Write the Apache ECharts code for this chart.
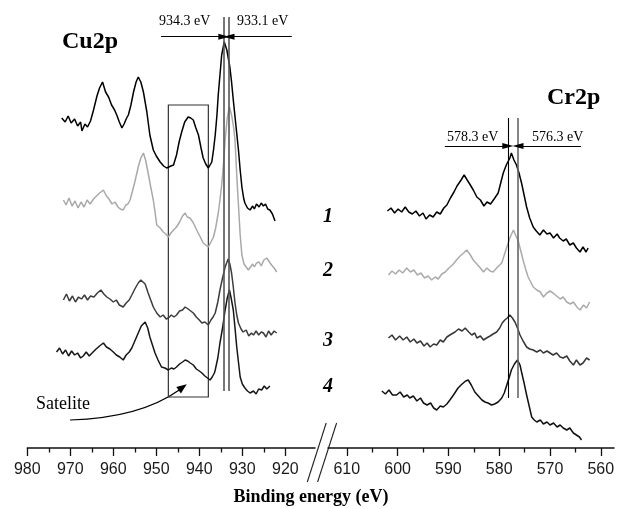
<!DOCTYPE html>
<html>
<head>
<meta charset="utf-8">
<title>Cu2p / Cr2p XPS spectra</title>
<script src="https://cdn.jsdelivr.net/npm/echarts@6/dist/echarts.min.js"></script>
<style>
  html, body { margin: 0; padding: 0; background: #fff; }
  #chart { width: 618px; height: 509px; }
</style>
</head>
<body>
<div id="chart"></div>
<script>
// Binding energy axis ticks (eV)
const cuTickLabels = [980, 970, 960, 950, 940, 930, 920];
const cuMinorTicks = [975, 965, 955, 945, 935, 925];
const crTickLabels = [610, 600, 590, 580, 570, 560];
const crMinorTicks = [605, 595, 585, 575, 565];

// Sample numbers shown beside the Cr2p spectra
const sampleLabels = ['1', '2', '3', '4'];

// Peak positions marked on each region (eV)
const cuPeakMarks = [934.3, 933.1];
const crPeakMarks = [578.3, 576.3];
// Shake-up satellite window (eV)
const satelliteWindow = [947.2, 937.9];

// Cu2p spectra, [binding energy (eV), intensity (a.u., vertically offset)]
const cuSpectrum1 = [
  [972.0,330],[971.2,326],[970.5,332],[969.8,325],[969.0,329],[968.3,322],[967.6,326],[967.3,317],
  [966.6,324],[966.0,321],[965.3,327],[964.6,338],[963.8,352],[963.2,360],[962.5,366],[961.8,356],
  [961.1,351],[960.4,343],[959.7,338],[959.2,333],[958.6,326],[958.0,320],[957.5,324],[956.9,330],
  [956.5,333],[955.9,343],[955.3,356],[954.7,366],[954.2,371],[953.6,366],[953.0,356],[952.2,336],
  [951.5,313],[950.7,298],[950.0,292],[949.1,286],[948.3,282],[947.6,280],[947.2,278],[946.6,282],
  [946.0,283],[945.3,293],[944.7,306],[944.1,316],[943.4,326],[942.6,331],[942.0,330],[941.4,328],
  [940.8,320],[940.2,313],[939.6,300],[939.1,290],[938.5,284],[937.9,280],[937.5,283],[937.1,286],
  [936.7,298],[936.3,313],[935.9,333],[935.6,353],[935.2,373],[934.8,393],[934.2,406],[933.6,398],
  [932.9,381],[932.5,366],[932.1,348],[931.5,323],[930.9,298],[930.5,278],[930.1,261],[929.7,250],
  [929.4,245],[928.8,240],[928.2,238],[927.6,242],[927.2,239],[926.7,244],[926.1,241],[925.6,245],
  [925.1,242],[924.6,244],[924.1,239],[923.6,238],[923.0,234],[922.4,227]
];
const cuSpectrum2 = [
  [971.6,248],[971.0,243],[970.3,250],[969.6,242],[968.9,247],[968.2,240],[967.5,246],[966.8,241],
  [966.1,248],[965.4,244],[964.6,249],[963.9,252],[963.2,255],[962.3,258],[961.6,252],[961.0,249],
  [960.3,244],[959.6,246],[958.9,241],[958.4,239],[957.7,238],[957.1,243],[956.6,244],[956.1,248],
  [955.6,256],[955.0,266],[954.2,281],[953.6,290],[953.0,295],[952.5,288],[951.9,275],[951.3,261],
  [950.7,248],[950.3,236],[949.9,223],[949.1,220],[948.4,216],[947.8,214],[947.2,211],[946.6,215],
  [946.0,218],[945.3,221],[944.6,226],[943.9,232],[943.3,235],[942.8,231],[942.2,230],[941.5,226],
  [940.6,218],[939.9,212],[939.1,205],[938.5,203],[937.9,201],[937.3,206],[936.7,211],[936.2,220],
  [935.6,235],[935.2,248],[934.8,263],[934.4,283],[934.0,308],[933.5,330],[933.0,341],[932.5,333],
  [932.0,320],[931.7,308],[931.3,273],[930.9,243],[930.5,213],[930.1,193],[929.6,184],[929.2,182],
  [928.6,178],[928.2,180],[927.6,184],[927.2,181],[926.7,185],[926.1,186],[925.6,182],[925.0,188],
  [924.3,190],[923.7,186],[923.2,183],[922.6,180],[922.0,176]
];
const cuSpectrum3 = [
  [971.6,148],[970.9,154],[970.2,147],[969.5,152],[968.8,146],[968.1,151],[967.4,149],[966.7,153],
  [966.0,148],[965.3,152],[964.5,151],[963.7,155],[962.9,158],[962.2,154],[961.5,151],[960.8,149],
  [960.0,146],[959.3,148],[958.6,143],[957.7,141],[957.0,145],[956.3,148],[955.7,153],[955.0,159],
  [954.2,165],[953.6,168],[953.2,170],[952.6,164],[951.9,155],[951.3,148],[950.7,141],[949.9,135],
  [949.1,131],[948.4,133],[947.7,129],[947.2,130],[946.5,133],[945.9,131],[945.3,133],[944.6,137],
  [943.9,138],[943.3,141],[942.6,139],[942.0,137],[941.4,135],[940.7,131],[940.0,128],[939.4,125],
  [938.7,126],[937.9,123],[937.3,128],[936.8,131],[936.3,135],[935.7,146],[935.2,158],[934.6,170],
  [934.0,181],[933.3,189],[932.9,184],[932.5,175],[932.1,161],[931.7,145],[931.3,133],[930.9,125],
  [930.3,119],[929.8,116],[929.1,118],[928.5,112],[927.9,115],[927.4,113],[926.8,117],[926.2,113],
  [925.6,116],[925.1,115],[924.5,111],[923.9,117],[923.3,113],[922.6,117],[922.0,115]
];
const cuSpectrum4 = [
  [973.2,96],[972.5,100],[971.8,94],[971.1,98],[970.4,92],[969.7,97],[969.0,93],[968.3,95],
  [967.6,90],[967.0,92],[966.3,96],[965.6,92],[964.7,96],[964.0,99],[963.2,102],[962.3,105],
  [961.6,101],[960.8,99],[960.0,96],[959.3,93],[958.5,91],[957.7,88],[957.0,93],[956.3,96],
  [955.7,100],[955.0,107],[954.2,115],[953.5,122],[952.6,126],[952.0,120],[951.5,111],[950.9,103],
  [950.3,95],[949.6,88],[948.8,81],[948.0,80],[947.2,78],[946.5,80],[945.9,79],[945.3,81],
  [944.6,84],[943.9,86],[943.3,88],[942.7,87],[942.1,85],[941.4,83],[940.7,79],[940.0,77],
  [939.4,75],[938.7,72],[938.1,70],[937.5,68],[937.0,71],[936.5,75],[936.3,78],[935.7,90],
  [935.2,105],[934.6,120],[934.0,138],[933.5,150],[933.0,158],[932.6,150],[932.1,138],[931.7,120],
  [931.3,101],[930.9,86],[930.5,71],[930.0,64],[929.4,60],[928.8,57],[928.2,55],[927.4,57],
  [926.8,54],[926.2,59],[925.5,58],[924.9,62],[924.3,59],[923.6,62]
];

// Cr2p spectra, [binding energy (eV), intensity (a.u., vertically offset)]
const crSpectrum1 = [
  [602.0,237],[601.3,240],[600.6,235],[599.9,239],[599.2,236],[598.5,241],[597.8,236],[597.1,234],
  [596.4,237],[595.7,232],[595.0,235],[594.4,229],[593.7,233],[593.0,231],[592.3,236],[591.6,234],
  [590.9,240],[590.3,243],[589.6,250],[588.9,256],[588.3,262],[587.5,268],[586.9,273],[586.3,268],
  [585.8,264],[585.1,258],[584.4,251],[583.7,248],[583.0,242],[582.4,246],[581.7,244],[581.0,249],
  [580.2,255],[579.7,265],[579.2,275],[578.6,283],[577.9,290],[577.6,295],[577.1,288],[576.6,283],
  [576.1,275],[575.6,265],[575.1,253],[574.6,241],[574.0,230],[573.3,221],[572.7,217],[572.0,213],
  [571.3,218],[570.6,214],[570.0,215],[569.3,210],[568.6,214],[568.1,210],[567.4,207],[566.8,209],
  [566.1,203],[565.4,205],[564.8,200],[564.1,196],[563.5,201],[562.9,196],[562.5,200]
];
const crSpectrum2 = [
  [601.8,173],[601.1,177],[600.4,174],[599.7,178],[599.0,175],[598.2,180],[597.5,176],[596.8,178],
  [596.1,173],[595.4,175],[594.7,170],[594.0,172],[593.3,168],[592.6,171],[592.0,169],[591.3,174],
  [590.6,176],[589.9,180],[589.2,183],[588.4,188],[587.7,192],[587.0,195],[586.4,198],[585.8,194],
  [585.1,188],[584.4,184],[583.7,180],[583.1,176],[582.4,180],[581.8,177],[581.2,176],[580.5,180],
  [579.9,183],[579.5,185],[579.0,193],[578.5,201],[577.9,210],[577.2,218],[576.7,212],[576.3,208],
  [575.8,198],[575.3,188],[574.8,179],[574.3,171],[573.8,166],[573.3,161],[572.6,158],[571.9,156],
  [571.3,151],[570.6,155],[570.0,157],[569.4,155],[568.7,152],[568.0,149],[567.4,151],[566.7,146],
  [566.0,144],[565.4,146],[564.7,141],[564.1,138],[563.4,143],[562.8,140],[562.2,146]
];
const crSpectrum3 = [
  [601.8,110],[601.1,113],[600.4,108],[599.6,112],[598.9,108],[598.2,111],[597.5,106],[596.8,109],
  [596.2,105],[595.5,107],[594.8,102],[594.2,105],[593.6,101],[592.9,104],[592.3,103],[591.6,108],
  [591.0,106],[590.3,111],[589.7,113],[588.7,116],[588.0,119],[587.3,117],[586.7,120],[586.0,116],
  [585.4,113],[584.8,115],[584.4,110],[583.7,112],[583.1,108],[582.5,110],[581.8,112],[581.2,114],
  [580.5,116],[579.9,120],[579.4,125],[578.9,128],[578.4,130],[577.9,133],[577.4,130],[576.9,126],
  [576.4,120],[575.9,113],[575.3,107],[574.6,101],[574.0,99],[573.3,98],[572.6,96],[571.9,98],
  [571.3,95],[570.6,97],[570.0,95],[569.4,93],[568.7,95],[568.0,91],[567.4,90],[566.7,92],
  [566.1,87],[565.4,83],[564.8,88],[564.1,83],[563.5,85],[562.8,90],[562.2,88]
];
const crSpectrum4 = [
  [603.1,57],[602.4,54],[601.7,58],[601.0,53],[600.2,53],[599.5,56],[598.8,51],[598.1,53],
  [597.6,50],[596.9,52],[596.2,47],[595.5,50],[594.9,45],[594.2,43],[593.5,45],[592.9,40],
  [592.3,38],[591.6,42],[591.0,41],[590.3,44],[589.7,48],[589.0,53],[588.1,60],[587.3,64],
  [586.6,67],[586.1,68],[585.5,63],[584.8,56],[584.1,52],[583.4,48],[582.8,46],[582.2,45],
  [581.5,43],[580.9,44],[580.2,46],[579.5,50],[579.0,55],[578.5,63],[578.0,71],[577.6,78],
  [577.0,84],[576.4,88],[575.9,83],[575.6,76],[575.1,65],[574.6,53],[574.1,42],[573.6,31],
  [573.1,28],[572.6,26],[571.9,28],[571.3,24],[570.6,26],[570.0,23],[569.3,25],[568.6,21],
  [568.0,23],[567.4,20],[566.7,18],[566.1,20],[565.4,15],[564.8,13],[564.2,11],[563.8,8]
];

const SERIF = '"Liberation Serif", "Times New Roman", serif';
const SANS = '"Liberation Sans", Arial, sans-serif';

const chart = echarts.init(document.getElementById('chart'), null, { renderer: 'canvas' });

function energyAxis(gridIndex, min, max, ticks, majorLabels, isMinor) {
  return {
    type: 'value', gridIndex, min, max, inverse: true, position: 'bottom',
    splitLine: { show: false },
    axisLine: { show: !isMinor, onZero: false, lineStyle: { color: '#111', width: 1.5 } },
    axisTick: { show: true, inside: false, length: isMinor ? 4.5 : 8, customValues: ticks,
                lineStyle: { color: '#111', width: 1.3 } },
    axisLabel: isMinor ? { show: false } : {
      show: true, customValues: majorLabels, margin: 14,
      fontFamily: SANS, fontSize: 16, color: '#1a1a1a'
    }
  };
}

function spectrum(data, color, xi, width) {
  return {
    type: 'line', data, xAxisIndex: xi, yAxisIndex: xi === 0 ? 0 : 1,
    showSymbol: false, symbol: 'none', silent: true, animation: false,
    lineStyle: { color, width: width || 1.2 }
  };
}

const arrowLine = { color: '#000', width: 1.2, type: 'solid' };

function peakLines(marks, yFrom, yTo, colors, widths) {
  return marks.map((e, i) => ([
    { coord: [e, yFrom], lineStyle: { color: colors[i], width: widths[i], type: 'solid' } },
    { coord: [e, yTo] }
  ]));
}

const option = {
  backgroundColor: '#fff',
  animation: false,
  grid: [
    { left: 27.3, top: 0, width: 287.7, height: 448 },
    { left: 328, top: 0, width: 286, height: 448 }
  ],
  xAxis: [
    energyAxis(0, 913.1, 980, cuTickLabels, cuTickLabels, false),
    energyAxis(1, 557.4, 613.7, crTickLabels, crTickLabels, false),
    energyAxis(0, 913.1, 980, cuMinorTicks, null, true),
    energyAxis(1, 557.4, 613.7, crMinorTicks, null, true)
  ],
  yAxis: [
    { type: 'value', gridIndex: 0, min: 0, max: 448, show: false },
    { type: 'value', gridIndex: 1, min: 0, max: 448, show: false }
  ],
  series: [
    spectrum(cuSpectrum1, '#000000', 0, 1.5),
    spectrum(cuSpectrum2, '#a9a9a9', 0, 1.5),
    spectrum(cuSpectrum3, '#3c3c3c', 0, 1.5),
    spectrum(cuSpectrum4, '#161616', 0, 1.5),
    spectrum(crSpectrum1, '#000000', 1, 1.5),
    spectrum(crSpectrum2, '#ababab', 1, 1.5),
    spectrum(crSpectrum3, '#363636', 1, 1.5),
    spectrum(crSpectrum4, '#111111', 1, 1.5),
    // Cu2p annotations: peak markers, arrows and satellite window
    {
      type: 'line', data: [], xAxisIndex: 0, yAxisIndex: 0, silent: true,
      markLine: {
        silent: true, animation: false, label: { show: false },
        symbol: 'none', lineStyle: arrowLine,
        data: peakLines(cuPeakMarks, 57, 431, ['#555', '#555'], [1.6, 1.6]).concat([
          [{ coord: [948.9, 411.3], symbol: 'none' },
           { coord: [cuPeakMarks[0], 411.3], symbol: 'triangle', symbolSize: [6, 11] }],
          [{ coord: [918.5, 411.3], symbol: 'none' },
           { coord: [cuPeakMarks[1], 411.3], symbol: 'triangle', symbolSize: [6, 11] }]
        ])
      },
      markArea: {
        silent: true, animation: false,
        itemStyle: { color: 'rgba(0,0,0,0)', borderColor: '#333', borderWidth: 1.2 },
        data: [[{ coord: [satelliteWindow[0], 51] }, { coord: [satelliteWindow[1], 343] }]]
      }
    },
    // Cr2p annotations
    {
      type: 'line', data: [], xAxisIndex: 1, yAxisIndex: 1, silent: true,
      markLine: {
        silent: true, animation: false, label: { show: false },
        symbol: 'none', lineStyle: arrowLine,
        data: peakLines(crPeakMarks, 50, 330, ['#000', '#666'], [1.1, 1.6]).concat([
          [{ coord: [590.7, 302], symbol: 'none' },
           { coord: [crPeakMarks[0], 302], symbol: 'triangle', symbolSize: [6, 11] }],
          [{ coord: [563.9, 302], symbol: 'none' },
           { coord: [crPeakMarks[1], 302], symbol: 'triangle', symbolSize: [6, 11] }]
        ])
      }
    }
  ],
  graphic: []
};

chart.setOption(option);

// Text labels, curved pointer and axis-break marks
const sampleY = [231, 177, 107, 61];
const graphics = [
  { type: 'text', x: 62, y: 42, style: { text: 'Cu2p', font: 'bold 24px ' + SERIF, fill: '#000', verticalAlign: 'middle' } },
  { type: 'text', x: 547, y: 98, style: { text: 'Cr2p', font: 'bold 24px ' + SERIF, fill: '#000', verticalAlign: 'middle' } },
  { type: 'text', x: 159, y: 21, style: { text: cuPeakMarks[0].toFixed(1) + ' eV', font: '14px ' + SERIF, fill: '#000', verticalAlign: 'middle' } },
  { type: 'text', x: 237, y: 21, style: { text: cuPeakMarks[1].toFixed(1) + ' eV', font: '14px ' + SERIF, fill: '#000', verticalAlign: 'middle' } },
  { type: 'text', x: 447, y: 137.5, style: { text: crPeakMarks[0].toFixed(1) + ' eV', font: '14px ' + SERIF, fill: '#000', verticalAlign: 'middle' } },
  { type: 'text', x: 532, y: 137.5, style: { text: crPeakMarks[1].toFixed(1) + ' eV', font: '14px ' + SERIF, fill: '#000', verticalAlign: 'middle' } },
  { type: 'text', x: 36, y: 404, style: { text: 'Satelite', font: '18px ' + SERIF, fill: '#000', verticalAlign: 'middle' } },
  { type: 'text', x: 311, y: 497, style: { text: 'Binding energy (eV)', font: 'bold 18px ' + SERIF, fill: '#000', align: 'center', verticalAlign: 'middle' } },
  { type: 'bezierCurve', shape: { x1: 70, y1: 420, cpx1: 140, cpy1: 418, x2: 180, y2: 389.5 },
    style: { stroke: '#000', lineWidth: 1.2, fill: null } },
  { type: 'polygon', shape: { points: [[186.7, 384.3], [180.9, 393.4], [176.3, 386.9]] },
    style: { fill: '#000' } },
  { type: 'line', shape: { x1: 307.3, y1: 482, x2: 326.2, y2: 423 }, style: { stroke: '#222', lineWidth: 1.1 } },
  { type: 'line', shape: { x1: 317.6, y1: 482, x2: 336.6, y2: 423 }, style: { stroke: '#222', lineWidth: 1.1 } }
];
sampleLabels.forEach((t, i) => {
  graphics.push({ type: 'text', x: 328, y: 448 - sampleY[i],
    style: { text: t, font: 'italic bold 20px ' + SERIF, fill: '#000', align: 'center', verticalAlign: 'middle' } });
});
chart.setOption({ graphic: graphics });
</script>
</body>
</html>
